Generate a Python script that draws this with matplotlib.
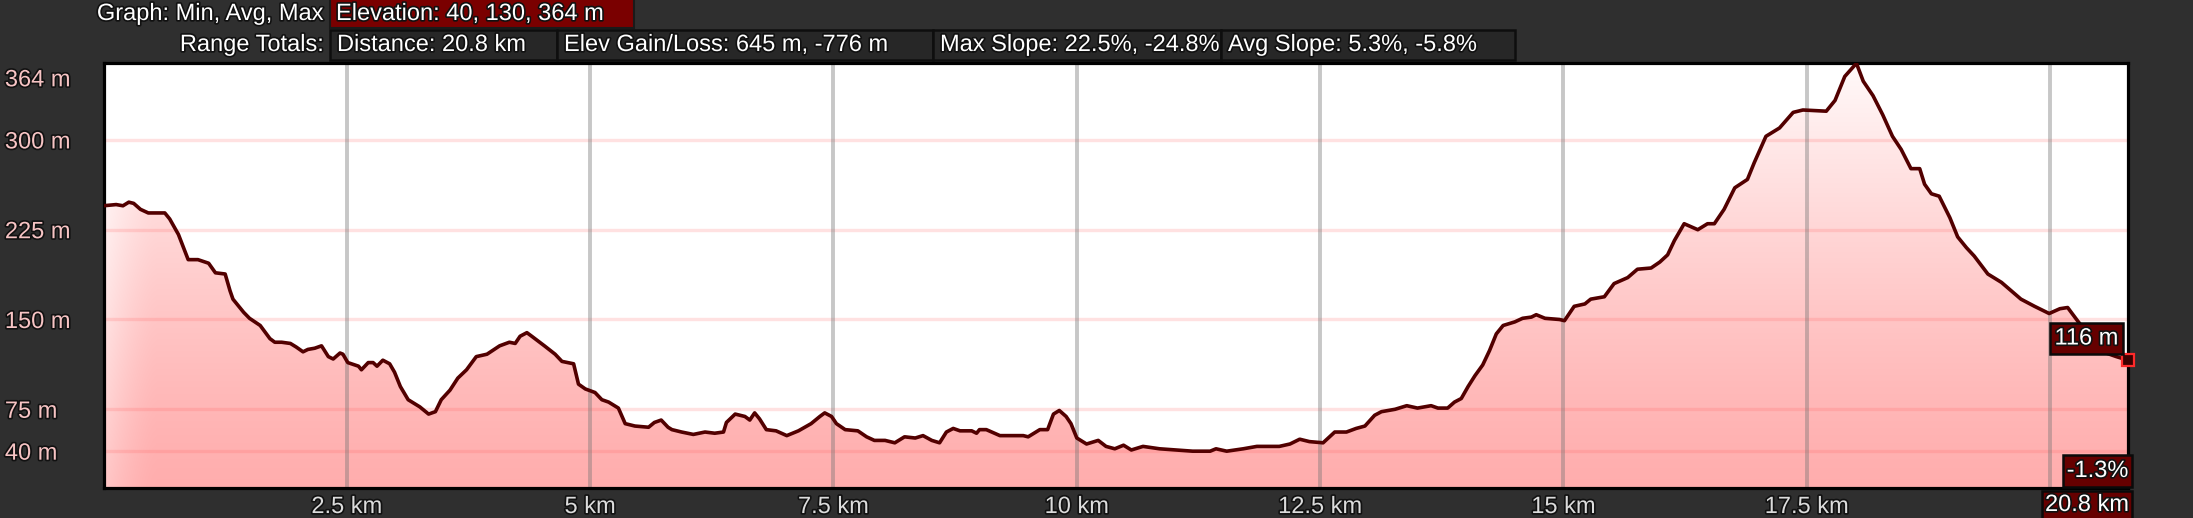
import matplotlib
matplotlib.use("Agg")
import matplotlib.pyplot as plt
import matplotlib.patheffects as pe
from matplotlib.patches import Rectangle
from matplotlib.transforms import ScaledTranslation
import numpy as np

# ---------------- data ----------------
dist_km = [0.00, 0.13, 0.20, 0.26, 0.31, 0.38, 0.46, 0.63, 0.68, 0.77, 0.87, 0.97, 1.08, 1.15, 1.25,
           1.30, 1.33, 1.44, 1.50, 1.61, 1.71, 1.76, 1.83, 1.92, 1.98, 2.05, 2.10, 2.17, 2.24, 2.31,
           2.36, 2.43, 2.46, 2.51, 2.62, 2.65, 2.72, 2.77, 2.81, 2.87, 2.94, 2.99, 3.05, 3.13, 3.25,
           3.34, 3.41, 3.47, 3.56, 3.64, 3.73, 3.83, 3.94, 4.07, 4.17, 4.23, 4.28, 4.35, 4.40, 4.53,
           4.64, 4.71, 4.83, 4.88, 4.95, 5.05, 5.12, 5.19, 5.29, 5.36, 5.46, 5.60, 5.66, 5.73, 5.80,
           5.84, 5.94, 6.06, 6.18, 6.28, 6.37, 6.40, 6.49, 6.59, 6.64, 6.69, 6.74, 6.81, 6.91, 7.02,
           7.14, 7.27, 7.36, 7.41, 7.48, 7.53, 7.62, 7.75, 7.84, 7.92, 8.03, 8.13, 8.23, 8.34, 8.42,
           8.51, 8.59, 8.66, 8.73, 8.80, 8.92, 8.97, 9.00, 9.07, 9.21, 9.45, 9.50, 9.62, 9.70, 9.76,
           9.82, 9.89, 9.94, 10.00, 10.10, 10.22, 10.30, 10.39, 10.48, 10.56, 10.68, 10.85, 11.02, 11.19, 11.37,
           11.43, 11.54, 11.71, 11.85, 12.08, 12.19, 12.29, 12.39, 12.53, 12.65, 12.77, 12.87, 12.96, 13.06, 13.13,
           13.27, 13.39, 13.50, 13.64, 13.71, 13.81, 13.88, 13.95, 14.02, 14.09, 14.17, 14.24, 14.31, 14.38, 14.50,
           14.58, 14.67, 14.72, 14.81, 14.96, 15.01, 15.11, 15.22, 15.28, 15.42, 15.52, 15.66, 15.76, 15.90, 15.99,
           16.07, 16.14, 16.24, 16.38, 16.48, 16.55, 16.65, 16.76, 16.89, 16.96, 17.08, 17.22, 17.36, 17.46, 17.70,
           17.79, 17.89, 18.01, 18.08, 18.18, 18.28, 18.38, 18.47, 18.57, 18.66, 18.71, 18.78, 18.86, 18.97, 19.05,
           19.14, 19.22, 19.36, 19.50, 19.60, 19.70, 19.84, 19.99, 20.10, 20.18, 20.29, 20.42, 20.54, 20.68, 20.80]
elev_m = [245, 246, 245, 248, 247, 242, 239, 239, 234, 221, 200, 200, 197, 189, 188,
          174, 167, 156, 151, 145, 134, 131, 131, 130, 127, 123, 125, 126, 128, 119,
          117, 122, 121, 114, 111, 108, 114, 114, 111, 116, 113, 106, 94, 83, 77,
          71, 73, 83, 91, 101, 108, 119, 121, 128, 131, 130, 136, 139, 136, 128,
          121, 115, 113, 96, 92, 89, 83, 81, 76, 63, 61, 60, 64, 66, 60,
          58, 56, 54, 56, 55, 56, 64, 71, 69, 66, 72, 67, 58, 57, 53,
          57, 63, 69, 72, 69, 63, 58, 57, 52, 49, 49, 47, 52, 51, 53,
          49, 47, 56, 59, 57, 57, 55, 58, 58, 53, 53, 52, 58, 58, 71,
          74, 69, 63, 51, 46, 49, 44, 42, 45, 41, 44, 42, 41, 40, 40,
          42, 40, 42, 44, 44, 46, 50, 48, 47, 56, 56, 59, 61, 70, 73,
          75, 78, 76, 78, 76, 76, 81, 84, 94, 103, 112, 124, 138, 145, 148,
          151, 152, 154, 151, 150, 149, 161, 163, 167, 169, 180, 185, 192, 193, 198,
          204, 216, 230, 225, 230, 230, 242, 260, 267, 281, 303, 310, 323, 325, 324,
          333, 353, 364, 349, 337, 321, 303, 292, 276, 276, 263, 255, 253, 235, 219,
          210, 203, 188, 181, 174, 167, 161, 155, 159, 160, 148, 135, 123, 119, 116]

y_ticks = [40, 75, 150, 225, 300, 364]
y_tick_labels = ["40 m", "75 m", "150 m", "225 m", "300 m", "364 m"]
x_grid = [2.5, 5, 7.5, 10, 12.5, 15, 17.5, 20]
x_tick_labels = ["2.5 km", "5 km", "7.5 km", "10 km", "12.5 km", "15 km", "17.5 km", ""]

header_row1_label = "Graph: Min, Avg, Max"
header_row1_box = "Elevation: 40, 130, 364 m"
header_row2_label = "Range Totals:"
header_row2_boxes = ["Distance: 20.8 km", "Elev Gain/Loss: 645 m, -776 m",
                     "Max Slope: 22.5%, -24.8%", "Avg Slope: 5.3%, -5.8%"]
end_slope_label = "-1.3%"
end_dist_label = "20.8 km"

# ---------------- figure ----------------
W, H = 2193, 518
plt.rcParams["font.family"] = ["Liberation Sans", "DejaVu Sans"]
FS = 17

fig = plt.figure(figsize=(W / 100, H / 100), dpi=100, facecolor="#2f2f2f")

L, R, T, B = 103.5, 2128.0, 63.3, 487.7
ax = fig.add_axes([L / W, (H - B) / H, (R - L) / W, (B - T) / H])
ymin, ymax = 9.5, 364.0
xmax = 20.8
ax.set_xlim(0, xmax)
ax.set_ylim(ymin, ymax)
ax.set_facecolor("white")

x = np.array(dist_km)
y = np.array(elev_m, dtype=float)

# gradient fill image
ny, nx = 300, 400
tt = np.linspace(0, 1, ny)[:, None] * np.ones((1, nx))
xx = np.ones((ny, 1)) * np.linspace(0, 1, nx)[None, :]
g = 0.68 + 0.30 * tt ** 1.25
edge = np.clip(1 - xx / 0.025, 0, 1) ** 1.5
g = g + (1 - g) * edge * (0.30 + 0.45 * tt)
img = np.zeros((ny, nx, 4))
img[..., 0] = 1.0
img[..., 1] = g
img[..., 2] = g
img[..., 3] = 1.0
im = ax.imshow(img, extent=[0, xmax, ymin, ymax], origin="lower", aspect="auto",
               zorder=1, interpolation="bilinear")
poly = ax.fill_between(x, y, ymin, color="none", lw=0, zorder=1)
im.set_clip_path(poly.get_paths()[0], ax.transData)

for yv in y_ticks[:-1]:
    ax.axhline(yv, color=(1, 0.35, 0.35, 0.18), lw=2.4, zorder=2)
for xv in x_grid:
    ax.axvline(xv, color=(0.45, 0.45, 0.45, 0.40), lw=2.8, zorder=2)

ax.plot(x, y, color="#520000", lw=2.6, zorder=3, solid_joinstyle="round")
ax.plot(x[-1], y[-1], marker="s", ms=8, mfc="#3a0000", mec="#ff2a2a", mew=1.6,
        zorder=6, clip_on=False)

for s in ax.spines.values():
    s.set_color("black")
    s.set_linewidth(2.3)

stroke = [pe.withStroke(linewidth=2.4, foreground="#111111")]

ax.set_yticks(y_ticks)
ax.set_yticklabels(y_tick_labels)
ax.tick_params(axis="y", length=0, pad=71, labelsize=FS, labelcolor="#f7c4c4")
for lab in ax.get_yticklabels():
    lab.set_ha("left")
    lab.set_path_effects(stroke)
top_lab = ax.get_yticklabels()[-1]
top_lab.set_va("top")
top_lab.set_transform(top_lab.get_transform() + ScaledTranslation(0, -6 / 100, fig.dpi_scale_trans))

ax.set_xticks(x_grid)
ax.set_xticklabels(x_tick_labels)
ax.tick_params(axis="x", length=0, pad=6, labelsize=FS, labelcolor="#dcdcdc")
for lab in ax.get_xticklabels():
    lab.set_path_effects(stroke)

# ---------------- overlay (pixel coords) ----------------
ov = fig.add_axes([0, 0, 1, 1], zorder=10)
ov.set_xlim(0, W)
ov.set_ylim(H, 0)
ov.axis("off")
ov.patch.set_alpha(0)

tkw = dict(color="white", fontsize=FS, va="center", path_effects=stroke)

ov.text(324, 14, header_row1_label, ha="right", **tkw)
ov.add_patch(Rectangle((330, -2), 304, 30, facecolor="#7a0000", edgecolor="#1a1a1a", lw=1.5))
ov.text(336, 14, header_row1_box, ha="left", **tkw)

ov.text(324, 45, header_row2_label, ha="right", **tkw)
box_edges = [330, 557, 933, 1221, 1515]
for i, txt in enumerate(header_row2_boxes):
    x0, x1 = box_edges[i], box_edges[i + 1]
    ov.add_patch(Rectangle((x0, 30), x1 - x0, 30, facecolor="#272727", edgecolor="#0e0e0e", lw=1.8))
    ov.text(x0 + 7, 45, txt, ha="left", **tkw)

box_kw = dict(facecolor="#660000", edgecolor="#0a0a0a", lw=1.8)
ov.add_patch(Rectangle((2050, 323), 73, 31, **box_kw))
ov.text(2086.5, 338.5, f"{elev_m[-1]:.0f} m", ha="center", **tkw)
ov.add_patch(Rectangle((2063, 455), 69, 32, **box_kw))
ov.text(2097.5, 471, end_slope_label, ha="center", **tkw)
ov.add_patch(Rectangle((2042, 491), 90, 30, **box_kw))
ov.text(2087, 505, end_dist_label, ha="center", **tkw)

fig.savefig("out.png", dpi=100, facecolor=fig.get_facecolor())
